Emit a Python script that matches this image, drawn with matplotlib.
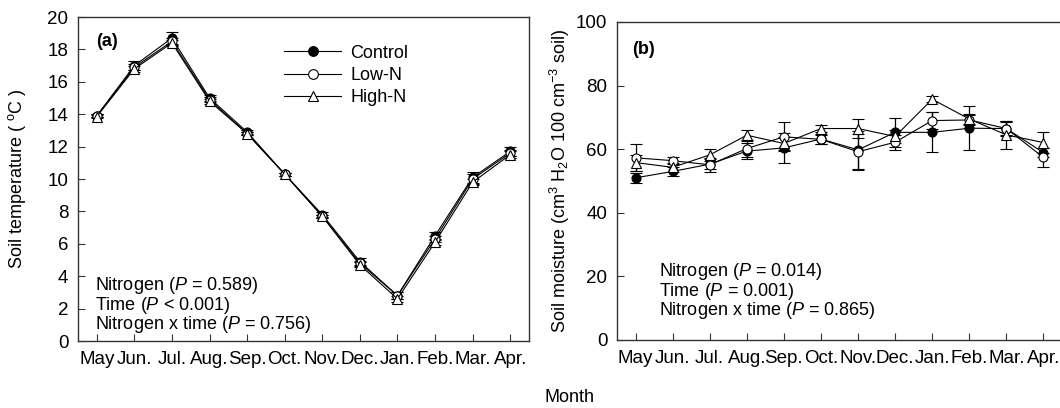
import matplotlib.pyplot as plt
import numpy as np
from matplotlib.lines import Line2D

plt.rcParams['font.family'] = ['Liberation Sans', 'DejaVu Sans']
plt.rcParams['mathtext.fontset'] = 'custom'
plt.rcParams['mathtext.rm'] = 'Liberation Sans'
plt.rcParams['mathtext.it'] = 'Liberation Sans:italic'

months = ["May", "Jun.", "Jul.", "Aug.", "Sep.", "Oct.", "Nov.", "Dec.", "Jan.", "Feb.", "Mar.", "Apr."]
series = ["Control", "Low-N", "High-N"]

# soil temperature (deg C)
temp_control = [13.9, 17.0, 18.7, 15.0, 12.9, 10.3, 7.8, 4.9, 2.8, 6.5, 10.1, 11.7]
temp_low = [13.9, 16.9, 18.5, 14.9, 12.8, 10.3, 7.7, 4.8, 2.8, 6.3, 10.0, 11.6]
temp_high = [13.85, 16.8, 18.4, 14.8, 12.8, 10.3, 7.7, 4.7, 2.6, 6.1, 9.8, 11.5]
temp_err_control = [0.1, 0.3, 0.35, 0.2, 0.15, 0.1, 0.15, 0.2, 0.2, 0.25, 0.35, 0.25]
temp_err_low = [0.1, 0.2, 0.2, 0.15, 0.1, 0.1, 0.1, 0.15, 0.2, 0.2, 0.3, 0.2]
temp_err_high = [0.1, 0.2, 0.2, 0.15, 0.1, 0.1, 0.1, 0.15, 0.2, 0.2, 0.2, 0.2]

# soil moisture
moist_control = [51.0, 53.0, 55.3, 59.4, 60.4, 63.2, 59.8, 65.3, 65.3, 66.6, 66.5, 58.9]
moist_low = [57.3, 56.4, 55.1, 60.2, 63.9, 63.1, 59.2, 62.2, 69.0, 69.2, 66.5, 57.4]
moist_high = [55.8, 54.3, 58.2, 64.4, 61.8, 66.5, 66.5, 64.0, 75.7, 69.5, 64.5, 62.1]
moist_err_control = [1.5, 1.5, 1.5, 2.4, 4.6, 1.5, 6.0, 4.5, 6.3, 7.0, 2.5, 1.5]
moist_err_low = [4.3, 1.2, 2.2, 2.5, 4.5, 1.5, 5.6, 2.3, 2.7, 1.5, 2.0, 3.0]
moist_err_high = [2.5, 1.5, 1.8, 1.5, 2.0, 1.0, 3.0, 2.0, 1.0, 1.5, 4.5, 3.3]

stats_a = ["Nitrogen ($\\mathit{P}$ = 0.589)", "Time ($\\mathit{P}$ < 0.001)",
           "Nitrogen x time ($\\mathit{P}$ = 0.756)"]
stats_b = ["Nitrogen ($\\mathit{P}$ = 0.014)", "Time ($\\mathit{P}$ = 0.001)",
           "Nitrogen x time ($\\mathit{P}$ = 0.865)"]

styles = [dict(marker='o', mfc='black'), dict(marker='o', mfc='white'), dict(marker='^', mfc='white')]
FS = 13

fig = plt.figure(figsize=(10.6, 4.08), dpi=100)
ax1 = fig.add_axes([78 / 1060, 1 - 341 / 408, 451 / 1060, 324 / 408])
ax2 = fig.add_axes([617 / 1060, 1 - 340 / 408, 445 / 1060, 318 / 408])

x = np.arange(len(months))


def draw(ax, vals, errs):
    for name, v, e, st in zip(series, vals, errs, styles):
        ax.errorbar(x, v, yerr=e, color='black', lw=0.8, ms=6.5, mec='black', mew=0.8,
                    capsize=4, elinewidth=0.9, capthick=0.9, **st)
    ax.set_xlim(-0.5, 11.5)
    ax.set_xticks(x)
    ax.set_xticklabels(months)
    ax.tick_params(direction='in', labelsize=13.5, length=5, width=0.8, color='#333333', pad=7)
    for s in ax.spines.values():
        s.set_color('#333333')
        s.set_linewidth(1.0)


draw(ax1, [temp_control, temp_low, temp_high], [temp_err_control, temp_err_low, temp_err_high])
ax1.set_ylim(0, 20)
ax1.set_yticks(range(0, 21, 2))
ax1.set_ylabel("Soil temperature ( $^{\\mathrm{o}}$C )", fontsize=FS, labelpad=14)
ax1.text(0.04, 0.925, "(a)", transform=ax1.transAxes, fontsize=13, fontweight='bold', va='center')
for i, t in enumerate(stats_a):
    ax1.text(0.038, 0.17 - i * 0.06, t, transform=ax1.transAxes, fontsize=FS, va='center')
handles = [Line2D([], [], color='black', lw=0.8, ms=7, mec='black', mew=0.8, **st) for st in styles]
ax1.legend(handles, series, loc='upper left', bbox_to_anchor=(0.42, 0.965), frameon=False, fontsize=FS,
           handlelength=3.2, labelspacing=0.3, handletextpad=0.5)

draw(ax2, [moist_control, moist_low, moist_high], [moist_err_control, moist_err_low, moist_err_high])
ax2.set_ylim(0, 100)
ax2.set_yticks(range(0, 101, 20))
ax2.spines['right'].set_visible(False)
ax2.set_ylabel("Soil moisture (cm$^3$ H$_2$O 100 cm$^{-3}$ soil)", fontsize=FS, labelpad=3)
ax2.text(0.035, 0.915, "(b)", transform=ax2.transAxes, fontsize=13, fontweight='bold', va='center')
for i, t in enumerate(stats_b):
    ax2.text(0.095, 0.215 - i * 0.061, t, transform=ax2.transAxes, fontsize=FS, va='center')

fig.text(570 / 1060, 1 - 398 / 408, "Month", ha='center', va='center', fontsize=FS)

fig.savefig("out.png", dpi=100)
